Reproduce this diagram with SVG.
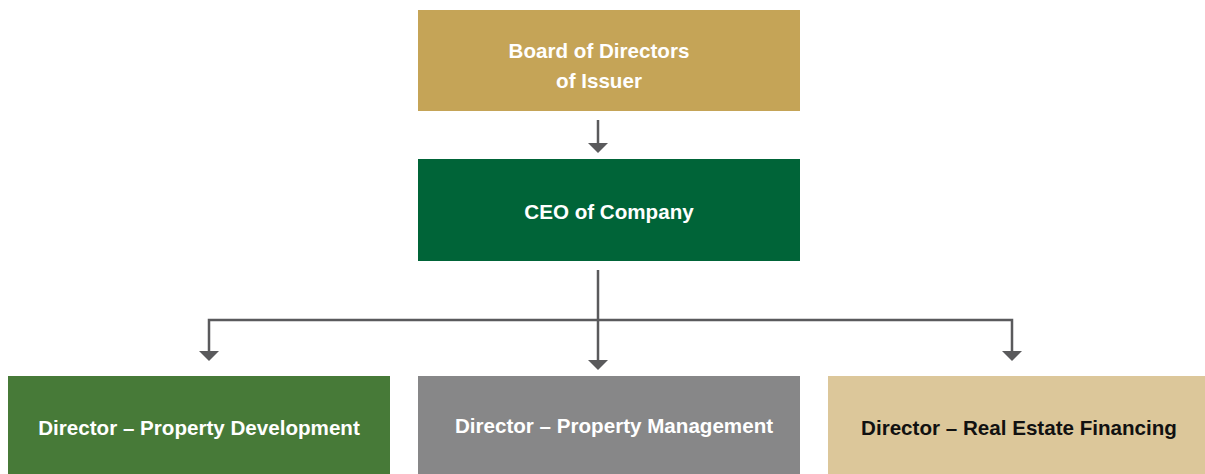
<svg xmlns="http://www.w3.org/2000/svg" width="1205" height="474" viewBox="0 0 1205 474">
  <style>
    .lbl { font-family: "Liberation Sans", Arial, sans-serif; font-weight: bold; font-size: 20.6px; text-anchor: middle; }
    .light { fill: #ffffff; }
    .dark { fill: #111111; }
    .wire { fill: none; stroke: #5a5a5c; stroke-width: 2.5; }
    .head { fill: #5a5a5c; }
  </style>

  <rect width="1205" height="474" fill="#ffffff"/>

  <g id="connectors">
    <path class="wire" d="M598,120 V145"/>
    <path class="wire" d="M598,270 V362"/>
    <path class="wire" d="M209,353 V320 H1012 V353"/>
    <!-- arrowheads -->
    <path class="head" d="M588,143 L608,143 L598,153 Z"/>
    <path class="head" d="M588,360 L608,360 L598,370 Z"/>
    <path class="head" d="M199,351 L219,351 L209,361 Z"/>
    <path class="head" d="M1002,351 L1022,351 L1012,361 Z"/>
  </g>

  <g id="board">
    <rect x="418" y="10" width="382" height="101" fill="#c5a457"/>
    <text class="lbl light" x="599" y="58">Board of Directors</text>
    <text class="lbl light" x="599" y="88">of Issuer</text>
  </g>

  <g id="ceo">
    <rect x="418" y="159" width="382" height="102" fill="#006438"/>
    <text class="lbl light" x="609" y="219">CEO of Company</text>
  </g>

  <g id="dir-development">
    <rect x="8" y="376" width="382" height="98" fill="#477a38"/>
    <text class="lbl light" x="199" y="435">Director – Property Development</text>
  </g>

  <g id="dir-management">
    <rect x="418" y="376" width="382" height="98" fill="#878788"/>
    <text class="lbl light" x="614" y="433">Director – Property Management</text>
  </g>

  <g id="dir-financing">
    <rect x="828" y="376" width="377" height="98" fill="#dcc79a"/>
    <text class="lbl dark" x="1019" y="435">Director – Real Estate Financing</text>
  </g>
</svg>
